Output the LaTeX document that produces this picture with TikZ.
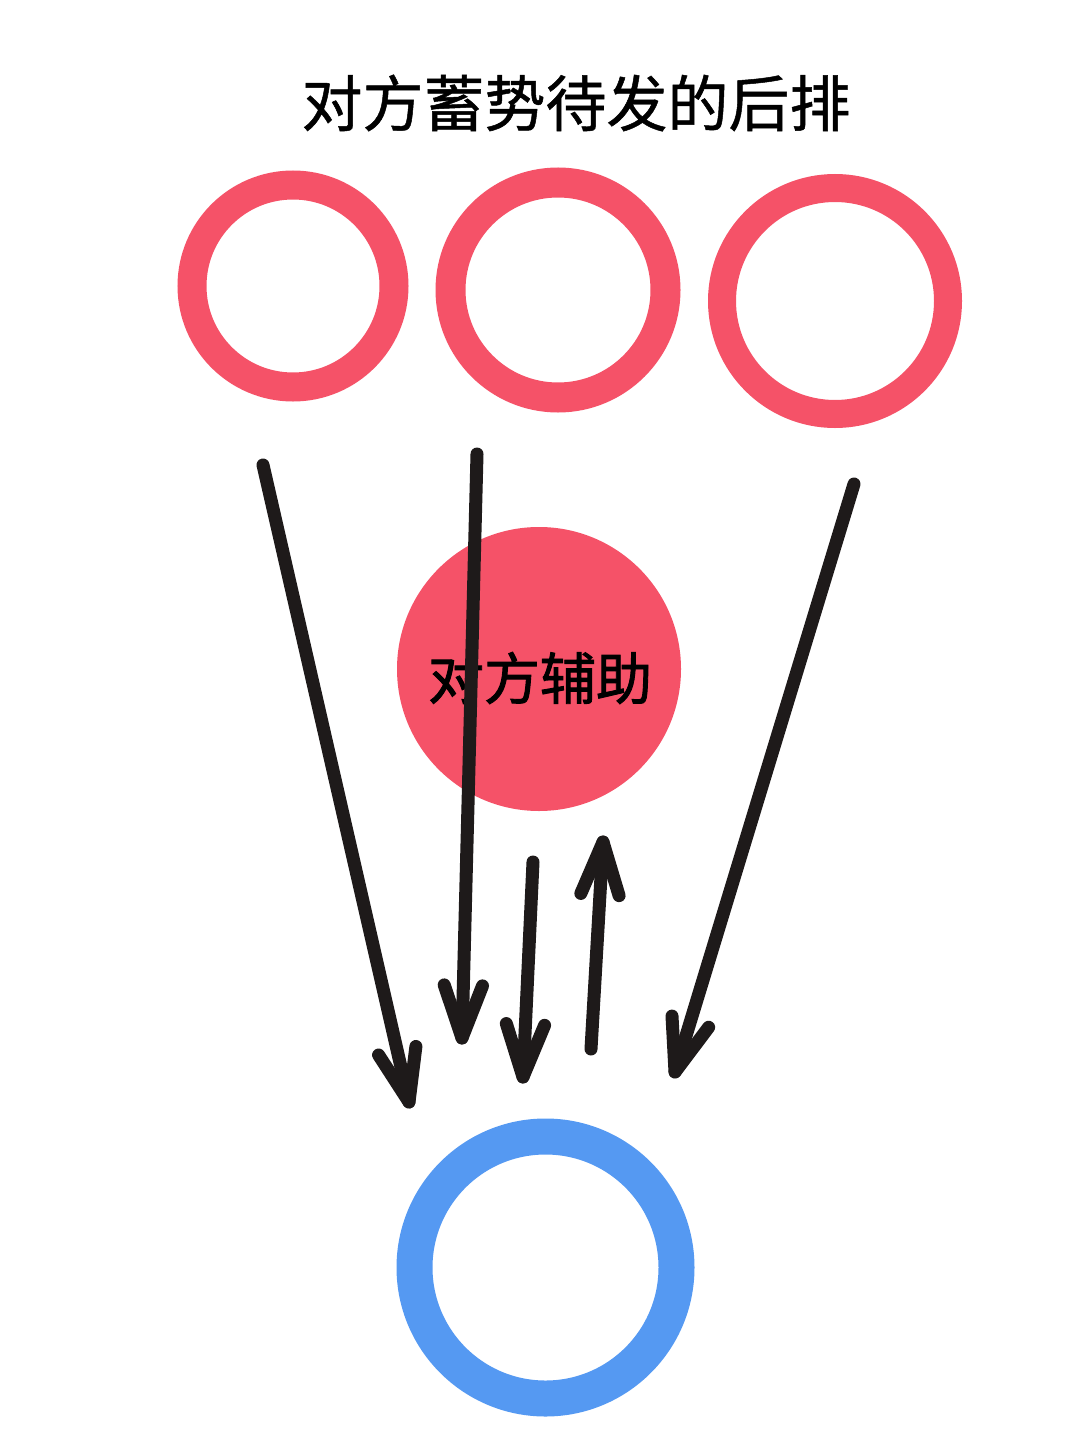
\documentclass[tikz,border=0pt]{standalone}
\usepackage{fontspec}
\newfontfamily\cjk[FakeBold=0.8]{Noto Sans CJK SC}
\newfontfamily\cjkmid[FakeBold=1.6]{Noto Sans CJK SC}
\usetikzlibrary{calc}
\definecolor{ringred}{RGB}{245,82,104}
\definecolor{ringblue}{RGB}{85,153,242}
\definecolor{inkblack}{RGB}{30,26,26}
\tikzset{
  redring/.style={circle,draw=ringred,inner sep=0pt},
  bluering/.style={circle,draw=ringblue,inner sep=0pt},
  sketchline/.style={draw=inkblack,line width=13pt,line cap=round,line join=round},
}
\newcommand{\sketcharrow}[2]{%
  \draw[sketchline] (#1) -- (#2);
  \draw[sketchline] ($(#2)!56pt!20:(#1)$) -- (#2) -- ($(#2)!56pt!-20:(#1)$);
}
\begin{document}
\begin{tikzpicture}[x=1pt,y=-1pt]
\useasboundingbox[fill=white] (0,0) rectangle (1080,1439);
% title
\node[font=\cjk\fontsize{61pt}{70pt}\selectfont,text=black,inner sep=0pt] (title) at (576,103) {对方蓄势待发的后排};
% top rings
\node[redring,line width=29pt,minimum size=202pt] (r1) at (293,286) {};
\node[redring,line width=30pt,minimum size=215pt] (r2) at (558,290) {};
\node[redring,line width=28pt,minimum size=226pt] (r3) at (835,301) {};
% support
\node[circle,fill=ringred,inner sep=0pt,minimum size=284pt] (sup) at (539,669) {};
\node[font=\cjkmid\fontsize{56pt}{64pt}\selectfont,text=black,inner sep=0pt] (suplabel) at (540,678) {对方辅助};
% blue ring
\node[bluering,line width=36pt,minimum size=262pt] (me) at (545.5,1267.5) {};
% arrow end points
\coordinate (a1s) at (263,465);
\coordinate (a1e) at (409,1102);
\coordinate (a2s) at (477,454);
\coordinate (a2e) at (462,1038);
\coordinate (a3s) at (533,862);
\coordinate (a3e) at (523,1077);
\coordinate (a4s) at (591,1049);
\coordinate (a4e) at (603,842);
\coordinate (a5s) at (854,484);
\coordinate (a5e) at (675,1072);
\sketcharrow{a1s}{a1e}
\sketcharrow{a2s}{a2e}
\sketcharrow{a3s}{a3e}
\sketcharrow{a4s}{a4e}
\sketcharrow{a5s}{a5e}
\end{tikzpicture}
\end{document}
